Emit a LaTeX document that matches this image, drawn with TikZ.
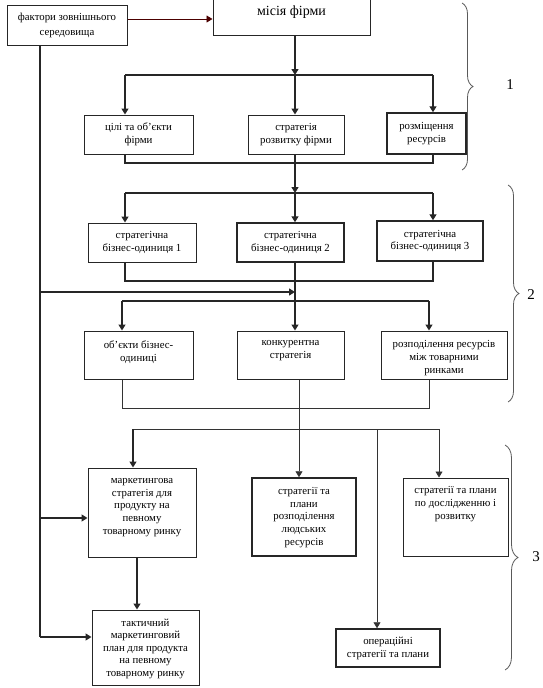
\documentclass[tikz,border=0pt]{standalone}
\usepackage{fontspec}
\setmainfont{Liberation Serif}
\usetikzlibrary{arrows.meta,decorations.pathreplacing,calc}
\begin{document}
\begin{tikzpicture}[x=1pt,y=-1pt,
 box/.style={draw=black!85, line width=1pt, inner sep=1pt, align=center, font=\fontsize{10.8}{12.8}\selectfont},
 tbox/.style={box, line width=1.5pt},
 txt/.style={inner sep=0pt, align=center, font=\fontsize{10.8}{12.6}\selectfont},
 con/.style={line width=1.4pt, black!85},
 thn/.style={line width=0.8pt, black!80},
 arr/.style={con, -{Triangle[width=7pt,length=6pt]}},
 arrt/.style={thn, -{Triangle[width=7pt,length=6pt]}},
 brc/.style={decorate, decoration={brace, amplitude=11pt}, line width=0.8pt, black!65},
 num/.style={inner sep=0pt, font=\fontsize{15}{15}\selectfont}
]
\useasboundingbox (0,0) rectangle (543,688);

% ---- top
\node[box, minimum width=120pt, minimum height=40pt, font=\fontsize{10.8}{15}\selectfont] (fac) at (67,25) {фактори зовнішнього\\середовища};
\node[box, minimum width=157pt, minimum height=47pt, font=\fontsize{14}{16}\selectfont] (mis) at (291.5,12) {місія фірми};

% ---- row 1
\node[box, minimum width=109pt, minimum height=39pt] (b11) at (138.5,134.5) {цілі та об’єкти\\фірми};
\node[box, minimum width=96pt, minimum height=39pt] (b12) at (296,134.5) {стратегія\\розвитку фірми};
\node[tbox, minimum width=79pt, minimum height=41pt] (b13) at (426.5,133.5) {розміщення\\ресурсів};

% ---- row 2
\node[box, minimum width=108pt, minimum height=39pt] (s1) at (142,242.5) {стратегічна\\бізнес-одиниця 1};
\node[tbox, minimum width=107pt, minimum height=39pt] (s2) at (290.5,242.5) {стратегічна\\бізнес-одиниця 2};
\node[tbox, minimum width=106pt, minimum height=40pt] (s3) at (430,241) {стратегічна\\бізнес-одиниця 3};

% ---- row 3
\node[box, minimum width=109pt, minimum height=48pt] (r1) at (138.5,355) {};
\node[txt, anchor=north] (r1t) at ([yshift=-10pt]r1.north) {об’єкти бізнес-\\одиниці};
\node[box, minimum width=107pt, minimum height=48pt] (r2) at (290.5,355) {};
\node[txt, anchor=north] (r2t) at ([yshift=-10pt]r2.north) {конкурентна\\стратегія};
\node[box, minimum width=126pt, minimum height=48pt] (r3) at (444,355) {};
\node[txt, anchor=north] (r3t) at ([yshift=-10pt]r3.north) {розподілення ресурсів\\між товарними\\ринками};

% ---- row 4
\node[box, minimum width=108pt, minimum height=89pt] (m) at (142,512.5) {};
\node[txt, anchor=north] (mt) at ([yshift=-11pt]m.north) {маркетингова\\стратегія для\\продукту на\\певному\\товарному ринку};
\node[tbox, minimum width=104pt, minimum height=78pt] (hr) at (304,517) {};
\node[txt, anchor=north] (hrt) at ([yshift=-10pt]hr.north) {стратегії та\\плани\\розподілення\\людських\\ресурсів};
\node[box, minimum width=105pt, minimum height=78pt] (rd) at (455.5,517) {};
\node[txt, anchor=north] (rdt) at ([yshift=-9pt]rd.north) {стратегії та плани\\по дослідженню і\\розвитку};

% ---- row 5
\node[box, minimum width=107pt, minimum height=75pt] (tac) at (145.5,647.5) {};
\node[txt, anchor=north] (tact) at ([yshift=-9pt]tac.north) {тактичний\\маркетинговий\\план для продукта\\на певному\\товарному ринку};
\node[tbox, minimum width=104pt, minimum height=38pt] (op) at (388,648) {};
\node[txt, anchor=north] (opt) at ([yshift=-9pt]op.north) {операційні\\стратегії та плани};

% ---- connectors: level 1
\coordinate (fm) at (0,19);
\draw[arrt, black!70!red] (fm -| fac.east) -- (fm -| mis.west);
\coordinate (j1) at (295,75);
\coordinate (j1l) at (125,75);
\coordinate (j1r) at (433,75);
\draw[arr] (mis.south -| j1) -- (j1);
\draw[con] (j1l) -- (j1r);
\draw[arr] (j1l) -- (j1l |- b11.north);
\draw[arr] (j1) -- (j1 |- b12.north);
\draw[arr] (j1r) -- (j1r |- b13.north);

\coordinate (k1l) at (125,163);
\coordinate (k1r) at (433,163);
\draw[con] (k1l |- b11.south) -- (k1l) -- (k1r) -- (k1r |- b13.south);

% ---- level 2
\coordinate (j2) at (295,193);
\coordinate (j2l) at (125,193);
\coordinate (j2r) at (433,193);
\draw[arr] (j2 |- b12.south) -- (j2);
\draw[con] (j2l) -- (j2r);
\draw[arr] (j2l) -- (j2l |- s1.north);
\draw[arr] (j2) -- (j2 |- s2.north);
\draw[arr] (j2r) -- (j2r |- s3.north);

\coordinate (k2l) at (125,281);
\coordinate (k2r) at (433,281);
\draw[con] (k2l |- s1.south) -- (k2l) -- (k2r) -- (k2r |- s3.south);

\coordinate (j3) at (295,301);
\coordinate (j3l) at (122,301);
\coordinate (j3r) at (429,301);
\draw[con] (j3 |- s2.south) -- (j3);
\draw[con] (j3l) -- (j3r);
\draw[arr] (j3l) -- (j3l |- r1.north);
\draw[arr] (j3) -- (j3 |- r2.north);
\draw[arr] (j3r) -- (j3r |- r3.north);

% left vertical from factors
\coordinate (lv) at (40,292);
\coordinate (lj) at (295,292);
\coordinate (lm) at (40,518);
\coordinate (lb) at (40,637);
\draw[con] (fac.south -| lv) -- (lb);
\draw[arr] (lv) -- (lj);
\draw[arr] (lm) -- (lm -| m.west);
\draw[arr] (lb) -- (lb -| tac.west);

% ---- level 3
\coordinate (k3l) at (122,408);
\coordinate (k3r) at (429,408);
\draw[thn] (k3l |- r1.south) -- (k3l) -- (k3r) -- (k3r |- r3.south);
\coordinate (k3m) at (299,429);
\draw[arrt] (k3m |- r2.south) -- (k3m |- hr.north);
\coordinate (j4l) at (133,429);
\coordinate (j4r) at (439,429);
\coordinate (j4o) at (377,429);
\draw[thn] (j4l) -- (j4r);
\draw[arr] (j4l) -- (j4l |- m.north);
\draw[arrt] (j4r) -- (j4r |- rd.north);
\draw[arrt] (j4o) -- (j4o |- op.north);
\coordinate (mtx) at (137,0);
\draw[arr] (mtx |- m.south) -- (mtx |- tac.north);

% ---- braces
\coordinate (br1a) at (462,3);
\coordinate (br1b) at (462,170);
\draw[brc] (br1a) -- (br1b);
\node[num] (n1) at (510,85) {1};
\coordinate (br2a) at (508,185);
\coordinate (br2b) at (508,402);
\draw[brc] (br2a) -- (br2b);
\node[num] (n2) at (531,295) {2};
\coordinate (br3a) at (505,445);
\coordinate (br3b) at (505,670);
\draw[brc, decoration={brace, amplitude=13pt}] (br3a) -- (br3b);
\node[num] (n3) at (536,557) {3};
\end{tikzpicture}
\end{document}
